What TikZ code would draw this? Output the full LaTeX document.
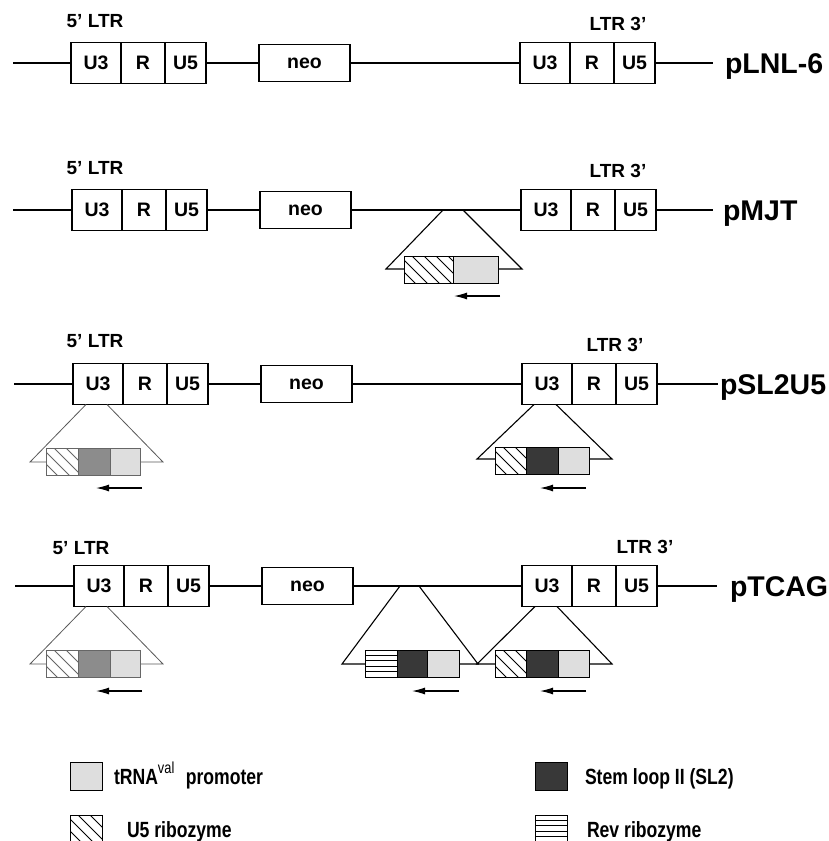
\documentclass[tikz,border=0pt]{standalone}
\usepackage{fontspec}
\setmainfont{Liberation Sans}
\newfontfamily\narrowfont[FakeStretch=0.8]{Liberation Sans}
\usetikzlibrary{arrows.meta,calc}
\tikzset{
  every node/.style={inner sep=0pt, outer sep=0pt},
  mainline/.style={line width=1.2pt},
  cell/.style={draw, line width=1.1pt, minimum height=41pt, anchor=west,
    font=\fontsize{19.5}{21}\selectfont\bfseries},
  neobox/.style={draw, line width=1.1pt, minimum height=37pt, minimum width=91pt, anchor=west,
    font=\fontsize{19.5}{21}\selectfont\bfseries},
  ltrlabel/.style={anchor=base, font=\fontsize{19}{21}\selectfont\bfseries},
  title/.style={anchor=base west, font=\fontsize{28.5}{30}\selectfont\bfseries},
  trap/.style={line width=1.1pt, line join=miter},
  traplight/.style={line width=0.8pt, draw=black!65},
  cas/.style={draw, line width=0.9pt, minimum height=27pt, anchor=north west},
  caslight/.style={cas, draw=black!60, line width=0.7pt},
  hatch/.style={fill=white, path picture={
      \foreach \k in {-40,-28,...,60}
        \draw[line width=0.9pt] ([xshift=\k pt]path picture bounding box.north west) -- ++(45,45);}},
  revlines/.style={fill=white, path picture={
      \foreach \k in {1,...,4}
        \draw[line width=0.9pt] ([yshift={-\k*5.4pt}]path picture bounding box.north west)
          -- ([yshift={-\k*5.4pt}]path picture bounding box.north east);}},
  promo/.style={fill=black!13},
  medium/.style={fill=black!45},
  dark/.style={fill=black!78},
  arr/.style={line width=1.2pt, -{Latex[length=13pt,width=7pt]}},
  legtext/.style={anchor=base west, font=\fontsize{22}{24}\selectfont\narrowfont\bfseries},
}
% #1 prefix, #2 y, #3 start x, #4 LTR5 x, #5 neo x, #6 LTR3 x, #7 end x
\newcommand\plasmidrow[7]{%
  \coordinate (#1s) at (#3,#2);
  \coordinate (#1e) at (#7,#2);
  \node[cell, minimum width=50pt] (#1a) at (#4,#2) {U3};
  \node[cell, minimum width=44pt] (#1b) at (#1a.east) {R};
  \node[cell, minimum width=41pt] (#1c) at (#1b.east) {U5};
  \node[neobox] (#1n) at (#5,#2) {neo};
  \node[cell, minimum width=50pt] (#1d) at (#6,#2) {U3};
  \node[cell, minimum width=44pt] (#1f) at (#1d.east) {R};
  \node[cell, minimum width=41pt] (#1g) at (#1f.east) {U5};
  \draw[mainline] (#1s) -- (#1a.west);
  \draw[mainline] (#1c.east) -- (#1n.west);
  \draw[mainline] (#1n.east) -- (#1d.west);
  \draw[mainline] (#1g.east) -- (#1e);
}
\begin{document}
\begin{tikzpicture}[x=1pt,y=-1pt]
\useasboundingbox (0,0) rectangle (828,841);
\fill[white] (0,0) rectangle (828,841);

% ---------- Row 1: pLNL-6
\plasmidrow{p}{63}{13}{71}{259}{520}{713}
\node[ltrlabel] (pl5) at (95,27) {5’ LTR};
\node[ltrlabel] (pl3) at (618,30) {LTR 3’};
\node[title] (pt) at (725,73) {pLNL-6};

% ---------- Row 2: pMJT
\plasmidrow{m}{210}{13}{72}{260}{521}{713}
\node[ltrlabel] (ml5) at (95,174) {5’ LTR};
\node[ltrlabel] (ml3) at (618,177) {LTR 3’};
\node[title] (mt) at (723,220) {pMJT};
\draw[trap] (443,210) -- (386,269) -- (522,269) -- (463,210);
\node[cas, hatch, minimum width=49pt] (mc1) at (404,256) {};
\node[cas, promo, minimum width=45pt] (mc2) at (mc1.north east) {};
\coordinate (ma1) at (500,296);
\coordinate (ma2) at (454,296);
\draw[arr] (ma1) -- (ma2);

% ---------- Row 3: pSL2U5
\plasmidrow{s}{384}{14}{73}{261}{522}{718}
\node[ltrlabel] (sl5) at (95,347) {5’ LTR};
\node[ltrlabel] (sl3) at (615,351) {LTR 3’};
\node[title] (st) at (720,394) {pSL2U5};
\draw[traplight] ($(sa.south)+(-12,0)$) -- (30,462) -- (163,462) -- ($(sa.south)+(9,0)$);
\node[caslight, hatch, minimum width=32pt] (slc1) at (46,448) {};
\node[caslight, medium, minimum width=32pt] (slc2) at (slc1.north east) {};
\node[caslight, promo, minimum width=30pt] (slc3) at (slc2.north east) {};
\coordinate (sla1) at (142,488);
\coordinate (sla2) at (96,488);
\draw[arr] (sla1) -- (sla2);
\draw[trap] ($(sd.south)+(-13,0)$) -- (477,459) -- (612,459) -- ($(sd.south)+(9,0)$);
\node[cas, hatch, minimum width=31pt] (src1) at (495,447) {};
\node[cas, dark, minimum width=32pt] (src2) at (src1.north east) {};
\node[cas, promo, minimum width=31pt] (src3) at (src2.north east) {};
\coordinate (sra1) at (586,488);
\coordinate (sra2) at (540,488);
\draw[arr] (sra1) -- (sra2);

% ---------- Row 4: pTCAG
\plasmidrow{t}{586}{15}{74}{262}{522}{717}
\node[ltrlabel] (tl5) at (81,554) {5’ LTR};
\node[ltrlabel] (tl3) at (645,553) {LTR 3’};
\node[title] (tt) at (730,596) {pTCAG};
\draw[traplight] ($(ta.south)+(-13,0)$) -- (30,664) -- (163,664) -- ($(ta.south)+(8,0)$);
\node[caslight, hatch, minimum width=32pt] (tlc1) at (46,650) {};
\node[caslight, medium, minimum width=32pt] (tlc2) at (tlc1.north east) {};
\node[caslight, promo, minimum width=30pt] (tlc3) at (tlc2.north east) {};
\coordinate (tla1) at (142,691);
\coordinate (tla2) at (96,691);
\draw[arr] (tla1) -- (tla2);
\draw[trap] (400,586) -- (342,664) -- (478,664) -- (419,586);
\node[cas, revlines, minimum width=32pt] (tmc1) at (365,650) {};
\node[cas, dark, minimum width=30pt] (tmc2) at (tmc1.north east) {};
\node[cas, promo, minimum width=32pt] (tmc3) at (tmc2.north east) {};
\coordinate (tma1) at (459,691);
\coordinate (tma2) at (412,691);
\draw[arr] (tma1) -- (tma2);
\draw[trap] ($(td.south)+(-12,0)$) -- (477,664) -- (612,664) -- ($(td.south)+(10,0)$);
\node[cas, hatch, minimum width=31pt] (trc1) at (495,650) {};
\node[cas, dark, minimum width=32pt] (trc2) at (trc1.north east) {};
\node[cas, promo, minimum width=31pt] (trc3) at (trc2.north east) {};
\coordinate (tra1) at (586,691);
\coordinate (tra2) at (540,691);
\draw[arr] (tra1) -- (tra2);

% ---------- Legend
\node[cas, promo, minimum width=32pt, minimum height=28pt] (lg1) at (70,762) {};
\node[legtext] (lg1t) at (114,784) {tRNA\raisebox{0.5em}{\fontsize{16}{16}\selectfont\mdseries val}\hspace{0.3em} promoter};
\node[cas, dark, minimum width=32pt, minimum height=28pt] (lg2) at (535,762) {};
\node[legtext] (lg2t) at (585,784) {Stem loop II (SL2)};
\node[cas, hatch, minimum width=32pt, minimum height=32pt] (lg3) at (70,815) {};
\node[legtext] (lg3t) at (127,837) {U5 ribozyme};
\node[cas, revlines, minimum width=32pt, minimum height=32pt] (lg4) at (535,815) {};
\node[legtext] (lg4t) at (587,837) {Rev ribozyme};
\end{tikzpicture}
\end{document}
